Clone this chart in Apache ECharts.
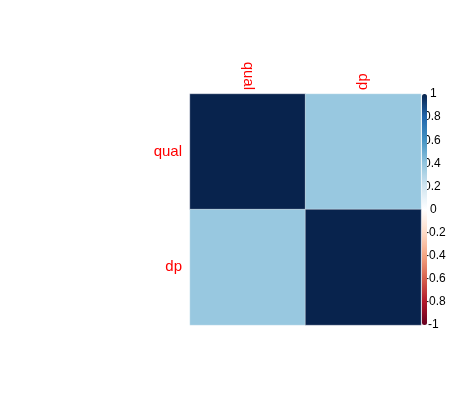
<!DOCTYPE html>
<html>
<head>
<meta charset="utf-8">
<script src="https://cdn.jsdelivr.net/npm/echarts@6/dist/echarts.min.js"></script>
<style>
  html, body { margin: 0; padding: 0; background: #fff; }
  #chart { width: 455px; height: 407px; }
</style>
</head>
<body>
<div id="chart"></div>
<script>
const vars = ['qual', 'dp'];
// correlation matrix, row by row
const corr = [
  [1, 0.38],
  [0.38, 1]
];
const palette = ['#67001F', '#B2182B', '#D6604D', '#F4A582', '#FDDBC7', '#FFFFFF',
  '#D1E5F0', '#92C5DE', '#4393C3', '#2166AC', '#08234D'];

const cells = [];
corr.forEach((row, i) => row.forEach((v, j) => cells.push([j, i, v])));

function legendLabel(v) {
  const r = Math.round(v * 10) / 10;
  const s = String(r);
  if (r === 1 || r === 0) return '{i|' + s + '}';
  if (r === -1) return '{m|' + s + '}';
  if (r < 0) return '{n|' + s + '}';
  return '{p|' + s + '}';
}

const chart = echarts.init(document.getElementById('chart'));
chart.setOption({
  animation: false,
  grid: [
    { left: 190, top: 94, width: 231, height: 231 },
    { left: 422, top: 94, width: 5, height: 231 }
  ],
  xAxis: [
    {
      type: 'category', data: vars, position: 'top', gridIndex: 0,
      axisLine: { show: false }, axisTick: { show: false },
      axisLabel: { rotate: 90, color: '#ff0000', fontSize: 15, fontFamily: 'Liberation Sans', margin: 4 }
    },
    { type: 'value', gridIndex: 1, show: false }
  ],
  yAxis: [
    {
      type: 'category', data: vars, inverse: true, gridIndex: 0,
      axisLine: { show: false }, axisTick: { show: false },
      axisLabel: { color: '#ff0000', fontSize: 15, fontFamily: 'Liberation Sans', margin: 8 }
    },
    {
      type: 'value', gridIndex: 1, min: -1, max: 1, interval: 0.2, position: 'right',
      axisLine: { show: false }, axisTick: { show: false }, splitLine: { show: false },
      axisLabel: {
        color: '#000', fontSize: 12, fontFamily: 'Liberation Sans', margin: -5,
        formatter: legendLabel,
        rich: {
          i: { color: '#000', fontSize: 12, fontFamily: 'Liberation Sans', padding: [0, 0, 0, 8] },
          m: { color: '#000', fontSize: 12, fontFamily: 'Liberation Sans', padding: [0, 0, 0, 6] },
          n: { color: '#000', fontSize: 12, fontFamily: 'Liberation Sans', padding: [0, 0, 0, 3] },
          p: { color: '#000', fontSize: 12, fontFamily: 'Liberation Sans', padding: [0, 0, 0, 2] }
        }
      }
    }
  ],
  visualMap: {
    type: 'continuous', min: -1, max: 1, calculable: false, seriesIndex: 0,
    orient: 'vertical', left: 422, top: 94, padding: 0,
    itemWidth: 5, itemHeight: 231, text: [],
    inRange: { color: palette },
    z: 10
  },
  series: [{
    type: 'heatmap', xAxisIndex: 0, yAxisIndex: 0, data: cells,
    itemStyle: { borderColor: 'rgba(255,255,255,0.7)', borderWidth: 0.5 },
    label: { show: false }
  }]
});
</script>
</body>
</html>
